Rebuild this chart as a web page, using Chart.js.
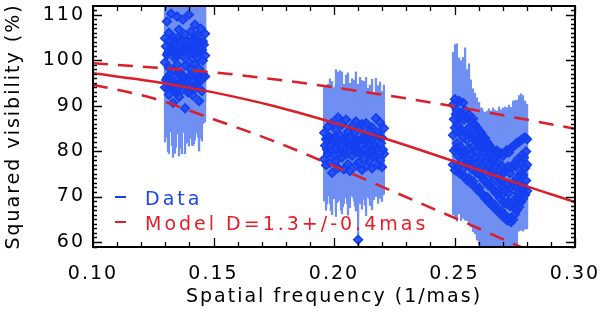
<!DOCTYPE html>
<html>
<head>
<meta charset="utf-8">
<script src="https://cdn.jsdelivr.net/npm/chart.js@4/dist/chart.umd.min.js"></script>
<style>
  html, body { margin: 0; padding: 0; background: #fff; }
</style>
</head>
<body>
<canvas id="visChart" width="600" height="317"></canvas>
<script>
// axis ticks
const xTicks = [0.10, 0.15, 0.20, 0.25, 0.30];
const yTicks = [60, 70, 80, 90, 100, 110];

// uniform disk model (best fit and +/- error)
const modelFreq = [0.100, 0.125, 0.150, 0.175, 0.200, 0.225, 0.250, 0.275, 0.300];
const modelBest = [97.1, 95.3, 92.9, 89.9, 86.2, 82.1, 77.7, 73.1, 68.8];
const modelUpper = [99.3, 98.4, 97.3, 95.8, 94.0, 92.0, 89.8, 87.4, 84.9];
const modelLower = [94.6, 91.6, 87.0, 82.2, 76.7, 71.0, 65.3, 59.5, 53.8];

// first group of baselines (rows A/B/C on one set of channels, D/E on the other)
const c1Freq = [0.1299, 0.1307, 0.1315, 0.1324, 0.1332, 0.1340, 0.1349, 0.1357, 0.1365, 0.1373, 0.1382,
                0.1390, 0.1398, 0.1407, 0.1415, 0.1423, 0.1432, 0.1440, 0.1448, 0.1456, 0.1465];
const c1VisA = [104.8, 108.5, 106.0, 110.2, 105.1, 103.9, 109.6, 106.7, 104.3, 108.9, 105.6,
                103.2, 110.0, 106.3, 104.6, 107.8, 105.4, 103.6, 106.9, 104.1, 105.8];
const c1ErrA = [10, 9, 10, 8, 10, 11, 8, 9, 10, 8, 10, 11, 8, 10, 10, 9, 10, 11, 9, 10, 9];
const c1VisB = [99.5, 101.2, 98.3, 102.5, 97.6, 100.4, 99.0, 101.8, 97.1, 100.9, 98.8,
                102.9, 99.7, 97.9, 101.4, 99.2, 100.6, 98.1, 102.2, 99.9, 101.0];
const c1ErrB = [11, 11, 12, 11, 12, 12, 12, 11, 13, 11, 12, 11, 12, 12, 11, 12, 11, 12, 11, 11, 10];
const c1VisC = [94.0, 96.1, 92.4, 95.2, 90.6, 93.5, 95.8, 91.9, 94.6, 96.5, 89.4,
                95.0, 93.1, 96.8, 92.2, 94.4, 96.0, 91.0, 95.5, 97.0, 96.4];
const c1ErrC = [12, 13, 13, 11, 12, 14, 12, 13, 14, 12, 10, 13, 12, 14, 11, 12, 11, 11, 10, 11, 10];
const c1FreqB = [0.1303, 0.1311, 0.1319, 0.1328, 0.1336, 0.1344, 0.1353, 0.1361, 0.1369, 0.1377,
                 0.1386, 0.1394, 0.1402, 0.1411, 0.1419, 0.1427, 0.1436, 0.1444, 0.1452, 0.1460];
const c1VisD = [103.0, 101.6, 104.4, 102.1, 103.8, 101.2, 104.9, 102.7, 101.9, 103.5,
                102.4, 104.1, 101.5, 103.2, 102.8, 104.6, 101.8, 103.9, 102.3, 103.4];
const c1ErrD = [11, 12, 10, 13, 11, 12, 10, 12, 13, 11, 12, 10, 13, 11, 12, 10, 12, 11, 12, 11];
const c1VisE = [95.6, 93.9, 96.8, 94.2, 95.1, 92.8, 97.2, 94.9, 93.4, 96.1,
                94.7, 92.9, 96.5, 95.3, 93.6, 96.9, 94.0, 95.8, 93.2, 96.3];
const c1ErrE = [12, 14, 11, 13, 15, 12, 13, 11, 14, 12, 13, 11, 12, 14, 12, 13, 11, 13, 11, 10];

// second group
const c2Freq = [0.1959, 0.1967, 0.1975, 0.1983, 0.1992, 0.2000, 0.2008, 0.2017, 0.2025, 0.2033, 0.2041,
                0.2050, 0.2058, 0.2066, 0.2075, 0.2083, 0.2091, 0.2100, 0.2108, 0.2116, 0.2124,
                0.2133, 0.2141, 0.2149, 0.2158, 0.2166, 0.2174, 0.2183, 0.2191, 0.2199, 0.2207];
const c2VisA = [84.0, 82.6, 85.3, 83.1, 86.2, 81.9, 84.7, 87.4, 83.5, 85.8, 82.4,
                86.9, 84.3, 81.5, 85.5, 83.8, 86.5, 82.1, 84.9, 85.9, 83.2,
                86.1, 82.8, 84.6, 85.2, 83.4, 87.2, 84.1, 86.3, 82.9, 85.0];
const c2ErrA = [10.5, 11.5, 9.4, 12.8, 9.1, 12.0, 13.2, 10.0, 14.2, 11.6, 12.3,
                9.8, 12.9, 13.4, 10.4, 11.8, 10.9, 12.6, 11.3, 9.6, 12.1,
                10.1, 11.0, 9.9, 10.6, 9.2, 8.8, 10.3, 8.9, 10.2, 9.5];
const c2VisB = [78.2, 76.9, 79.5, 77.4, 75.2, 79.0, 77.8, 76.3, 80.1, 78.6, 76.0,
                79.3, 77.1, 75.6, 78.9, 80.4, 76.8, 77.5, 79.8, 75.9, 78.3,
                76.6, 79.6, 77.9, 76.2, 78.7, 79.1, 77.0, 78.0, 76.5, 79.4];
const c2ErrB = [9.2, 9.9, 9.3, 8.9, 9.2, 9.5, 12.2, 7.4, 10.1, 12.4, 7.6,
                9.5, 11.2, 8.1, 8.8, 11.4, 10.0, 9.3, 9.5, 8.7, 8.9,
                10.8, 9.7, 9.9, 9.1, 9.4, 9.1, 8.5, 8.4, 7.6, 8.9];
const c2FreqB = [0.1963, 0.1971, 0.1979, 0.1987, 0.1996, 0.2004, 0.2012, 0.2021, 0.2029, 0.2037,
                 0.2045, 0.2054, 0.2062, 0.2070, 0.2079, 0.2087, 0.2095, 0.2104, 0.2112, 0.2120,
                 0.2128, 0.2137, 0.2145, 0.2153, 0.2162, 0.2170, 0.2178, 0.2187, 0.2195, 0.2203];
const c2VisC = [81.2, 80.4, 82.7, 79.9, 81.8, 83.1, 80.6, 82.2, 81.0, 79.7,
                82.9, 81.5, 80.2, 83.3, 81.9, 80.8, 82.4, 79.6, 81.4, 83.0,
                80.1, 82.0, 81.6, 79.8, 82.6, 81.1, 80.5, 83.2, 81.7, 80.3];
const c2ErrC = [11, 12, 10, 13, 12, 11, 12, 13, 14, 12, 11, 13, 12, 11, 12,
                13, 12, 11, 13, 10, 12, 11, 12, 11, 10, 11, 10, 9, 10, 10];

// lone low point
const outFreq = [0.2100];
const outVis = [60.5];
const outErr = [8.7];

// third group
const c3Freq = [0.2494, 0.2502, 0.2510, 0.2519, 0.2527, 0.2535, 0.2544, 0.2552, 0.2560, 0.2568,
                0.2577, 0.2585, 0.2593, 0.2602, 0.2610, 0.2618, 0.2627, 0.2635, 0.2643, 0.2651,
                0.2660, 0.2668, 0.2676, 0.2685, 0.2693, 0.2701, 0.2710, 0.2718, 0.2726, 0.2734,
                0.2743, 0.2751, 0.2759, 0.2768, 0.2776, 0.2784, 0.2793, 0.2801];
const c3VisA = [90.2, 91.4, 89.0, 91.0, 88.4, 90.6, 88.9, 87.3, 88.0, 86.6,
                87.1, 85.8, 85.2, 84.5, 84.0, 83.2, 82.8, 82.0, 81.4, 80.7,
                80.3, 79.6, 80.1, 79.2, 79.5, 78.9, 79.8, 80.2, 79.7, 80.6,
                81.0, 81.3, 81.8, 82.0, 82.4, 82.7, 83.0, 82.6];
const c3ErrA = [11.5, 12.0, 14.6, 9.5, 11.5, 10.0, 13.8, 10.6, 11.2, 9.0,
                6.6, 6.9, 6.5, 6.2, 5.5, 5.6, 5.0, 6.8, 7.9, 8.1,
                9.2, 9.4, 8.7, 10.5, 9.6, 10.6, 9.9, 9.3, 10.4, 9.0,
                10.0, 9.8, 9.4, 10.2, 10.2, 9.5, 8.0, 7.7];
const c3VisB = [83.5, 85.1, 81.7, 84.2, 80.9, 83.0, 79.8, 82.4, 80.5, 79.2,
                81.0, 78.6, 79.9, 77.8, 78.4, 76.9, 77.5, 75.8, 76.6, 74.9,
                75.4, 73.8, 74.6, 72.9, 73.5, 72.1, 71.3, 72.6, 70.8, 71.9,
                73.0, 72.3, 74.1, 73.6, 75.2, 74.8, 76.3, 77.0];
const c3ErrB = [10, 10, 11, 10, 11, 10, 12, 10, 11, 10,
                10, 10, 10, 11, 11, 11, 11, 11, 11, 11,
                11, 11, 11, 12, 12, 12, 12, 12, 12, 12,
                11, 11, 11, 10, 10, 10, 10, 10];
const c3VisC = [77.0, 75.8, 76.4, 75.2, 74.9, 76.1, 74.3, 73.6, 74.0, 72.9,
                73.3, 72.2, 71.6, 71.9, 70.8, 70.3, 69.6, 69.9, 68.7, 68.9,
                67.8, 68.1, 67.0, 66.5, 66.9, 65.6, 65.9, 64.8, 65.2, 64.4,
                64.9, 66.1, 67.0, 67.7, 68.8, 69.5, 70.4, 71.2];
const c3ErrC = [11.0, 10.6, 11.8, 9.0, 10.2, 10.9, 9.5, 8.9, 10.1, 9.6,
                11.0, 10.4, 11.2, 12.5, 12.8, 13.0, 12.2, 12.9, 11.5, 12.0,
                11.3, 12.5, 10.8, 11.6, 12.4, 11.0, 12.3, 10.5, 11.8, 10.6,
                9.2, 10.1, 8.4, 5.3, 6.2, 7.1, 7.6, 8.3];
const c3FreqB = [0.2498, 0.2506, 0.2514, 0.2523, 0.2531, 0.2539, 0.2548, 0.2556, 0.2564, 0.2572,
                 0.2581, 0.2589, 0.2597, 0.2606, 0.2614, 0.2622, 0.2631, 0.2639, 0.2647, 0.2655,
                 0.2664, 0.2672, 0.2680, 0.2689, 0.2697, 0.2705, 0.2714, 0.2722, 0.2730, 0.2738,
                 0.2747, 0.2755, 0.2763, 0.2772, 0.2780, 0.2788, 0.2797];
const c3VisD = [87.0, 88.1, 85.6, 87.4, 84.5, 86.9, 84.2, 84.9, 83.7, 83.1,
                83.8, 82.4, 82.3, 81.0, 81.4, 79.9, 80.3, 78.7, 79.2, 77.6,
                78.0, 76.5, 77.4, 75.8, 76.7, 75.3, 75.8, 76.6, 75.1, 76.4,
                77.2, 76.6, 78.2, 77.5, 79.1, 78.6, 79.9];
const c3ErrD = [11, 10, 12, 10, 11, 12, 10, 11, 12, 9,
                8, 8, 8, 8, 8, 8, 8, 8, 8, 8,
                9, 9, 9, 10, 10, 10, 10, 10, 10, 10,
                10, 10, 10, 10, 10, 9, 9];
const c3VisE = [80.1, 80.6, 79.0, 79.8, 77.7, 79.4, 77.2, 77.9, 77.1, 76.0,
                77.0, 75.3, 75.6, 74.7, 74.4, 73.5, 73.4, 72.6, 72.5, 71.8,
                71.5, 70.8, 70.9, 69.6, 70.3, 68.7, 68.4, 68.9, 67.9, 68.0,
                69.2, 69.0, 70.7, 70.5, 72.1, 72.0, 73.5];
const c3ErrE = [11, 12, 10, 11, 10, 12, 11, 10, 11, 10,
                11, 12, 11, 12, 12, 11, 12, 11, 12, 11,
                12, 11, 12, 11, 12, 11, 12, 11, 12, 11,
                10, 9, 8, 7, 8, 8, 9];

const dataLabel = 'Data';
const modelLabel = 'Model D=1.3+/-0.4mas';

const errBlue = '#6f8ff2';
const dataBlue = '#1440f0';
const modelRed = '#dc1e28';
const font = { family: "'DejaVu Sans', sans-serif", size: 19 };

const rows = [
    [c1Freq, c1VisA, c1ErrA], [c1Freq, c1VisB, c1ErrB], [c1Freq, c1VisC, c1ErrC],
    [c1FreqB, c1VisD, c1ErrD], [c1FreqB, c1VisE, c1ErrE],
    [c2Freq, c2VisA, c2ErrA], [c2Freq, c2VisB, c2ErrB], [c2FreqB, c2VisC, c2ErrC],
    [outFreq, outVis, outErr],
    [c3Freq, c3VisA, c3ErrA], [c3Freq, c3VisB, c3ErrB], [c3Freq, c3VisC, c3ErrC],
    [c3FreqB, c3VisD, c3ErrD], [c3FreqB, c3VisE, c3ErrE]
];

const points = [];
const errorBars = [];
rows.forEach(([freq, vis, err]) => {
    freq.forEach((f, i) => {
        points.push({ x: f, y: vis[i] });
        errorBars.push({ x: f, y: [vis[i] - err[i], vis[i] + err[i]] });
    });
});

function curve(vals) {
    return modelFreq.map((f, i) => ({ x: f, y: vals[i] }));
}

// IDL style frame: inward ticks on all four sides, minor ticks included
const idlAxes = {
    id: 'idlAxes',
    beforeDraw(chart) {
        chart.ctx.letterSpacing = '2px';
    },
    afterDraw(chart) {
        const { ctx, chartArea: a, scales: { x, y } } = chart;
        ctx.save();
        ctx.strokeStyle = '#000';
        ctx.lineWidth = 1.3;
        ctx.beginPath();
        for (let i = 0; i <= 20; i++) {
            const px = Math.round(x.getPixelForValue(0.10 + i * 0.01)) + 0.5;
            const len = i % 5 === 0 ? 9 : 5;
            ctx.moveTo(px, a.bottom); ctx.lineTo(px, a.bottom - len);
            ctx.moveTo(px, a.top); ctx.lineTo(px, a.top + len);
        }
        for (let v = Math.ceil(y.min); v <= y.max; v++) {
            const py = Math.round(y.getPixelForValue(v)) + 0.5;
            const len = v % 10 === 0 ? 9 : 4;
            ctx.moveTo(a.left, py); ctx.lineTo(a.left + len, py);
            ctx.moveTo(a.right, py); ctx.lineTo(a.right - len, py);
        }
        ctx.stroke();
        ctx.lineWidth = 2;
        ctx.strokeRect(a.left, a.top, a.right - a.left, a.bottom - a.top);
        ctx.restore();
    }
};

// legend drawn inside the plot, lower left
const idlLegend = {
    id: 'idlLegend',
    afterDraw(chart) {
        const { ctx, chartArea: a } = chart;
        const items = [
            { text: dataLabel, line: dataBlue, color: '#1e46f0' },
            { text: modelLabel, line: modelRed, color: '#ec1c24' }
        ];
        ctx.save();
        ctx.font = '19px ' + font.family;
        ctx.letterSpacing = '3px';
        ctx.textBaseline = 'alphabetic';
        ctx.textAlign = 'left';
        items.forEach((it, i) => {
            const base = a.bottom - 42 + i * 25;
            ctx.strokeStyle = it.line;
            ctx.lineWidth = 2;
            ctx.beginPath();
            ctx.moveTo(a.left + 22, base - 8);
            ctx.lineTo(a.left + 33, base - 8);
            ctx.stroke();
            ctx.fillStyle = it.color;
            ctx.fillText(it.text, a.left + 52, base);
        });
        ctx.restore();
    }
};

new Chart(document.getElementById('visChart').getContext('2d'), {
    type: 'scatter',
    data: {
        datasets: [
            {
                type: 'line', label: modelLabel, data: curve(modelBest),
                borderColor: modelRed, borderWidth: 2.5, pointRadius: 0,
                cubicInterpolationMode: 'monotone', clip: 0, order: 0
            },
            {
                type: 'line', label: 'upper', data: curve(modelUpper),
                borderColor: modelRed, borderWidth: 2.5, borderDash: [15, 10], pointRadius: 0,
                cubicInterpolationMode: 'monotone', clip: 0, order: 0
            },
            {
                type: 'line', label: 'lower', data: curve(modelLower),
                borderColor: modelRed, borderWidth: 2.5, borderDash: [15, 10], pointRadius: 0,
                cubicInterpolationMode: 'monotone', clip: 0, order: 0
            },
            {
                type: 'scatter', label: dataLabel, data: points,
                pointStyle: 'rectRot', pointRadius: 4.2, pointBorderWidth: 1.8,
                borderColor: dataBlue, backgroundColor: 'rgba(20,64,240,0.8)',
                clip: 0, order: 1
            },
            {
                type: 'bar', label: 'errors', data: errorBars,
                backgroundColor: errBlue, borderWidth: 0, barThickness: 1.6,
                grouped: false, clip: 0, order: 2
            }
        ]
    },
    options: {
        responsive: false,
        animation: false,
        devicePixelRatio: 1,
        events: [],
        layout: { padding: { left: 0, right: 25, top: 5, bottom: 0 } },
        plugins: { legend: { display: false }, tooltip: { enabled: false } },
        scales: {
            x: {
                type: 'linear', min: 0.10, max: 0.30, offset: false,
                grid: { display: false, drawTicks: false }, border: { display: false },
                afterBuildTicks: s => { s.ticks = xTicks.map(v => ({ value: v })); },
                afterFit: s => { s.height = 70; s.paddingLeft = 0; s.paddingRight = 0; },
                ticks: {
                    autoSkip: false, maxRotation: 0, padding: 16, color: '#000', font: font,
                    callback: v => v.toFixed(2)
                },
                title: {
                    display: true, text: 'Spatial frequency (1/mas)', color: '#000', font: font,
                    padding: { top: 0, bottom: 9 }
                }
            },
            y: {
                type: 'linear', min: 58.9, max: 111.9,
                grid: { display: false, drawTicks: false }, border: { display: false },
                afterBuildTicks: s => { s.ticks = yTicks.map(v => ({ value: v })); },
                afterFit: s => { s.width = 93; s.paddingTop = 0; s.paddingBottom = 0; },
                ticks: { autoSkip: false, padding: 8, color: '#000', font: font },
                title: {
                    display: true, text: 'Squared visibility (%)', color: '#000', font: font,
                    padding: { top: 3, bottom: 0 }
                }
            }
        }
    },
    plugins: [idlAxes, idlLegend]
});
</script>
</body>
</html>
